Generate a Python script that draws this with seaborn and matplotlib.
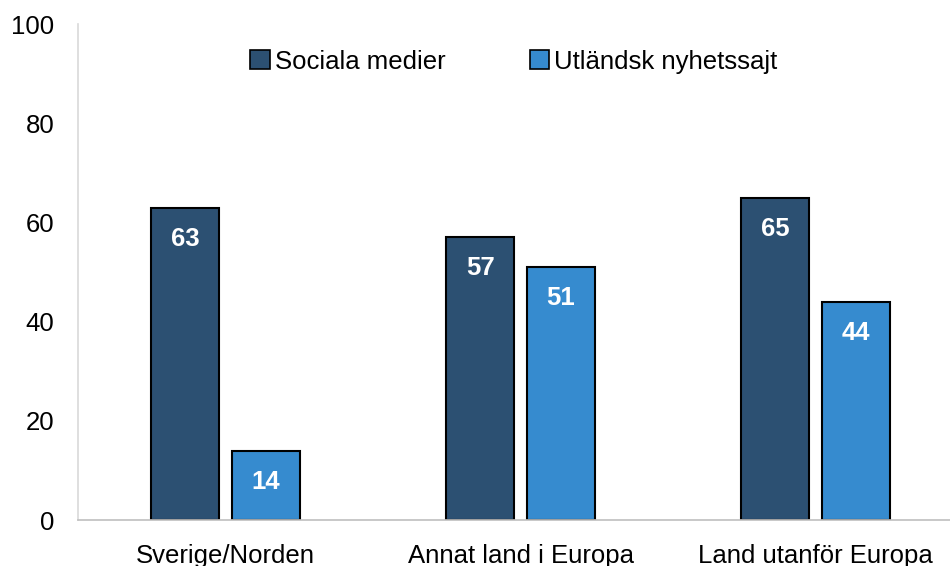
import matplotlib
matplotlib.use("Agg")
import matplotlib.pyplot as plt
import seaborn as sns
import pandas as pd

# Chart data
categories = ["Sverige/Norden", "Annat land i Europa", "Land utanför Europa"]
series_names = ["Sociala medier", "Utländsk nyhetssajt"]
sociala_medier = [63, 57, 65]
utlandsk_nyhetssajt = [14, 51, 44]
y_ticks = [0, 20, 40, 60, 80, 100]

colors = ["#2C5072", "#368BCF"]

df = pd.DataFrame({
    "kategori": categories * 2,
    "serie": [series_names[0]] * 3 + [series_names[1]] * 3,
    "varde": sociala_medier + utlandsk_nyhetssajt,
})

sns.set_theme(style="white")
plt.rcParams["font.family"] = ["Liberation Sans", "DejaVu Sans"]
plt.rcParams["text.color"] = "black"
plt.rcParams["xtick.color"] = "black"
plt.rcParams["ytick.color"] = "black"

fig = plt.figure(figsize=(9.5, 5.66), dpi=100)
ax = fig.add_axes([78 / 950, 46 / 566, 872 / 950, 496 / 566])

sns.barplot(data=df, x="kategori", y="varde", hue="serie", order=categories,
            hue_order=series_names, palette=colors, saturation=1,
            width=0.546, gap=0.155, edgecolor="black", linewidth=1.5, ax=ax)

# Value labels inside bars
for container in ax.containers:
    ax.bar_label(container, labels=[f"{v:.0f}" for v in container.datavalues],
                 label_type="edge", padding=-31, color="white",
                 fontsize=18.5, fontweight="bold")

ax.set_ylim(0, 100)
ax.set_xlim(-0.5, -0.5 + 872 / 295)
ax.set_yticks(y_ticks)
ax.set_xlabel("")
ax.set_ylabel("")
ax.tick_params(axis="y", length=0, labelsize=18.5, pad=17)
ax.tick_params(axis="x", which="major", length=0, labelsize=18.5, pad=17)
ax.set_xticks([0.5, 1.5], minor=True)
ax.tick_params(axis="x", which="minor", length=8, color="#BFBFBF", width=1.2)

for side in ["top", "right"]:
    ax.spines[side].set_visible(False)
ax.spines["left"].set_color("#D9D9D9")
ax.spines["left"].set_linewidth(1.2)
ax.spines["bottom"].set_color("#BFBFBF")
ax.spines["bottom"].set_linewidth(1.2)

leg = ax.legend(loc="upper center", bbox_to_anchor=(0.5, 0.995), ncol=2,
                frameon=False, fontsize=18.5, handlelength=0.75, handleheight=0.75,
                handletextpad=0.2, columnspacing=3.3)
for h in leg.legend_handles:
    h.set_edgecolor("black")
    h.set_linewidth(1.2)

fig.savefig("out.png", dpi=100)
